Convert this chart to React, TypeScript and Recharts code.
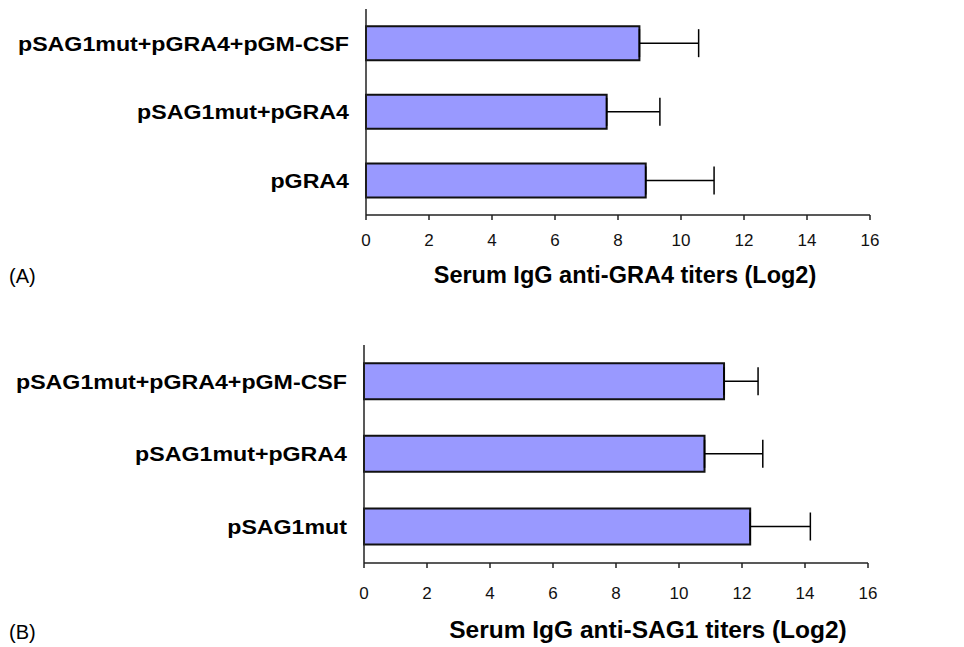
import { BarChart, Bar, XAxis, YAxis, ErrorBar, Label } from 'recharts'

const groupsA = ['pSAG1mut+pGRA4+pGM-CSF', 'pSAG1mut+pGRA4', 'pGRA4']
const titersA = [8.68, 7.64, 8.88]
const errorsA = [1.88, 1.69, 2.17]

const groupsB = ['pSAG1mut+pGRA4+pGM-CSF', 'pSAG1mut+pGRA4', 'pSAG1mut']
const titersB = [11.43, 10.81, 12.26]
const errorsB = [1.08, 1.85, 1.91]

const xTicks = [0, 2, 4, 6, 8, 10, 12, 14, 16]

const FONT = '"Liberation Sans", Arial, Helvetica, sans-serif'

const toRows = (names: string[], values: number[], errs: number[]) =>
  names.map((name, i) => ({ name, value: values[i], err: [0, errs[i]] }))

// bold group labels, a bit wider than plain Arial like the original
function GroupTick({ x, y, payload }: any) {
  return (
    <g transform={`translate(${x},${y})`}>
      <text
        transform="scale(1.16,1)"
        textAnchor="end"
        dy="0.36em"
        fontSize={20}
        fontWeight="bold"
        fill="#000"
      >
        {payload.value}
      </text>
    </g>
  )
}

interface PanelProps {
  rows: ReturnType<typeof toRows>
  height: number
  top: number
  plotHeight: number
  axisWidth: number
  tickMargin: number
  title: string
  titleSize: number
  titleDx: number
  titleOffset: number
}

function Panel({
  rows,
  height,
  top,
  plotHeight,
  axisWidth,
  tickMargin,
  title,
  titleSize,
  titleDx,
  titleOffset,
}: PanelProps) {
  return (
    <BarChart
      layout="vertical"
      width={964}
      height={height}
      data={rows}
      barCategoryGap="25%"
      margin={{ top, right: 964 - axisWidth - 504, left: 0, bottom: 0 }}
    >
      <XAxis
        type="number"
        domain={[0, 16]}
        ticks={xTicks}
        interval={0}
        height={height - top - plotHeight}
        stroke="#222"
        strokeWidth={1.5}
        tickSize={5}
        tickMargin={tickMargin}
        tick={{ fontSize: 17, fill: '#111' }}
      >
        <Label
          value={title}
          position="insideBottom"
          offset={titleOffset}
          dx={titleDx}
          style={{ fontSize: titleSize, fontWeight: 'bold', fill: '#000' }}
        />
      </XAxis>
      <YAxis
        type="category"
        dataKey="name"
        width={axisWidth}
        stroke="#222"
        strokeWidth={1.5}
        tickLine={false}
        tickSize={0}
        tickMargin={17}
        tick={<GroupTick />}
      />
      <Bar dataKey="value" fill="#9999ff" stroke="#111" strokeWidth={2} isAnimationActive={false}>
        <ErrorBar dataKey="err" direction="x" width={14} stroke="#000" strokeWidth={1.5} />
      </Bar>
    </BarChart>
  )
}

export default function App() {
  return (
    <div
      style={{
        position: 'absolute',
        left: 0,
        top: 0,
        width: 964,
        height: 647,
        background: '#fff',
        fontFamily: FONT,
        color: '#000',
      }}
    >
      <div style={{ position: 'absolute', left: 0, top: 0 }}>
        <Panel
          rows={toRows(groupsA, titersA, errorsA)}
          height={300}
          top={9}
          plotHeight={206}
          axisWidth={366}
          tickMargin={14}
          title="Serum IgG anti-GRA4 titers (Log2)"
          titleSize={23.5}
          titleDx={7}
          titleOffset={17}
        />
      </div>
      <div style={{ position: 'absolute', left: 0, top: 300 }}>
        <Panel
          rows={toRows(groupsB, titersB, errorsB)}
          height={347}
          top={45}
          plotHeight={218}
          axisWidth={364}
          tickMargin={19}
          title="Serum IgG anti-SAG1 titers (Log2)"
          titleSize={24.5}
          titleDx={32}
          titleOffset={9}
        />
      </div>
      <div style={{ position: 'absolute', left: 9, top: 265, fontSize: 20 }}>(A)</div>
      <div style={{ position: 'absolute', left: 9, top: 621, fontSize: 20 }}>(B)</div>
    </div>
  )
}
